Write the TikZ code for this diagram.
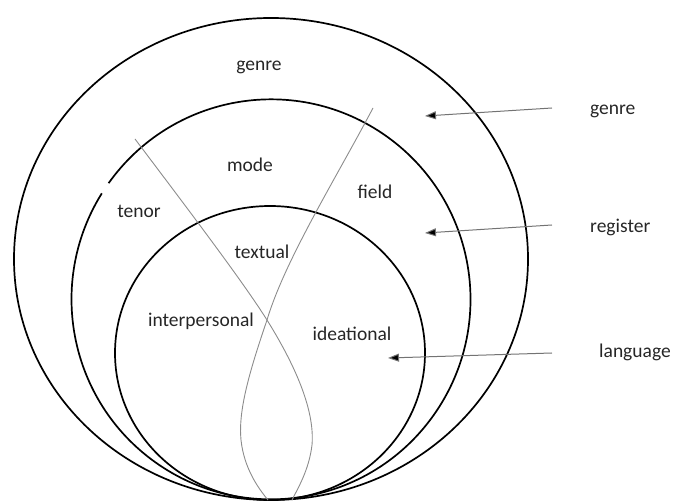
\documentclass[tikz,border=0pt]{standalone}
\usepackage{fontspec}
\setmainfont{Carlito}
\usetikzlibrary{arrows.meta}
\tikzset{
  ring/.style={draw=black, line width=1.7pt},
  strand/.style={draw=black!45, line width=0.9pt},
  lbl/.style={font=\fontsize{19.5}{21}\selectfont, text=black!85, inner sep=0pt},
  pointer/.style={draw=black!55, line width=1pt, -{Triangle[length=11pt,width=8pt,fill=black]}},
}
\begin{document}
\begin{tikzpicture}[x=1pt,y=-1pt]
\useasboundingbox (0,0) rectangle (681,502);
% ellipses
\draw[ring] (271,259) ellipse[x radius=257, y radius=241];
\draw[ring] (108.6,183.2) arc[start angle=-144.5, end angle=212, x radius=199.5, y radius=200];
\draw[ring] (270,353) ellipse[x radius=155, y radius=147];
% strands
\draw[strand] (135,139) .. controls (200,225) and (245,285) .. (267,320)
  .. controls (295,365) and (315,410) .. (312,445)
  .. controls (309,470) and (298,488) .. (292,500);
\draw[strand] (373,108) .. controls (335,180) and (285,260) .. (267,320)
  .. controls (250,370) and (238,410) .. (241,440)
  .. controls (244,468) and (258,488) .. (268,500);
% labels
\node[lbl] (g1) at (259,67) {genre};
\node[lbl] (mode) at (250,165) {mode};
\node[lbl] (field) at (375,192) {field};
\node[lbl] (tenor) at (139,211) {tenor};
\node[lbl] (textual) at (262,252) {textual};
\node[lbl] (inter) at (201,321) {interpersonal};
\node[lbl] (idea) at (352,334) {ideational};
\node[lbl, anchor=west] (g2) at (590,111) {genre};
\node[lbl, anchor=west] (reg) at (590,227) {register};
\node[lbl, anchor=west] (lang) at (599,352) {language};
% arrows
\coordinate (a1s) at (552,108); \coordinate (a1e) at (425,116);
\coordinate (a2s) at (552,225); \coordinate (a2e) at (425,233);
\coordinate (a3s) at (552,353); \coordinate (a3e) at (388,358);
\draw[pointer] (a1s) -- (a1e);
\draw[pointer] (a2s) -- (a2e);
\draw[pointer] (a3s) -- (a3e);
\end{tikzpicture}
\end{document}
